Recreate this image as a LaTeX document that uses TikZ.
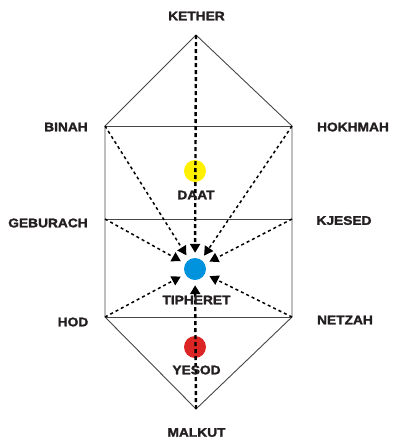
\documentclass[tikz,border=0pt]{standalone}
\usepackage{fontspec}
\newfontfamily\lblfont{Liberation Sans}[FakeStretch=1.1,FakeBold=1.8]
\usetikzlibrary{arrows.meta}
\definecolor{txt}{RGB}{35,31,32}
\definecolor{frame}{RGB}{70,70,70}
\definecolor{daatc}{RGB}{255,240,0}
\definecolor{tiphc}{RGB}{0,147,221}
\definecolor{yesodc}{RGB}{220,38,38}
\begin{document}
\begin{tikzpicture}[x=1pt,y=-1pt,
  lbl/.style={font=\lblfont\bfseries\fontsize{12.5}{12.5}\selectfont, text=txt, inner sep=0pt},
  edge/.style={line width=0.9pt, draw=frame},
  axis/.style={line width=2.4pt, dash pattern=on 4pt off 3pt, -{Triangle[length=9pt,width=10pt]}, shorten >=5pt},
  ray/.style={line width=1.5pt, dash pattern=on 3pt off 3pt, -{Triangle[length=9pt,width=10pt]}, shorten >=5pt},
  sph/.style={circle, minimum size=22pt, inner sep=0pt}]
\useasboundingbox (0,0) rectangle (395,440);
% corners
\coordinate (K) at (196,35);
\coordinate (B) at (105,126);
\coordinate (H) at (292,126);
\coordinate (G) at (105,219);
\coordinate (C) at (292,219);
\coordinate (Hd) at (105,317);
\coordinate (N) at (292,317);
\coordinate (M) at (196,409);
% frame
\draw[edge] (K) -- (B) -- (Hd) -- (M) -- (N) -- (H) -- cycle;
\draw[edge] (B) -- (H);
\draw[edge] (G) -- (C);
\draw[edge] (Hd) -- (N);
% spheres
\node[sph, fill=daatc] (daat) at (195,171) {};
\node[sph, fill=tiphc] (tiph) at (195,269) {};
\node[sph, fill=yesodc] (yesod) at (195,347) {};
% connectors
\draw[axis] (K) -- (tiph);
\draw[axis] (M) -- (tiph);
\draw[ray] (B) -- (tiph);
\draw[ray] (H) -- (tiph);
\draw[ray] (G) -- (tiph);
\draw[ray] (C) -- (tiph);
\draw[ray] (Hd) -- (tiph);
\draw[ray] (N) -- (tiph);
% labels
\node[lbl] (lK) at (196.5,16) {KETHER};
\node[lbl] (lB) at (66,127) {BINAH};
\node[lbl] (lH) at (353,127) {HOKHMAH};
\node[lbl] (lG) at (48,223) {GEBURACH};
\node[lbl] (lC) at (344,220.5) {KJESED};
\node[lbl] (lHd) at (73,322) {HOD};
\node[lbl] (lN) at (345,320) {NETZAH};
\node[lbl] (lM) at (196.5,432.5) {MALKUT};
\node[lbl] (lD) at (196,195) {DAAT};
\node[lbl] (lT) at (196.5,300) {TIPHERET};
\node[lbl] (lY) at (196.5,370) {YESOD};
\end{tikzpicture}
\end{document}
